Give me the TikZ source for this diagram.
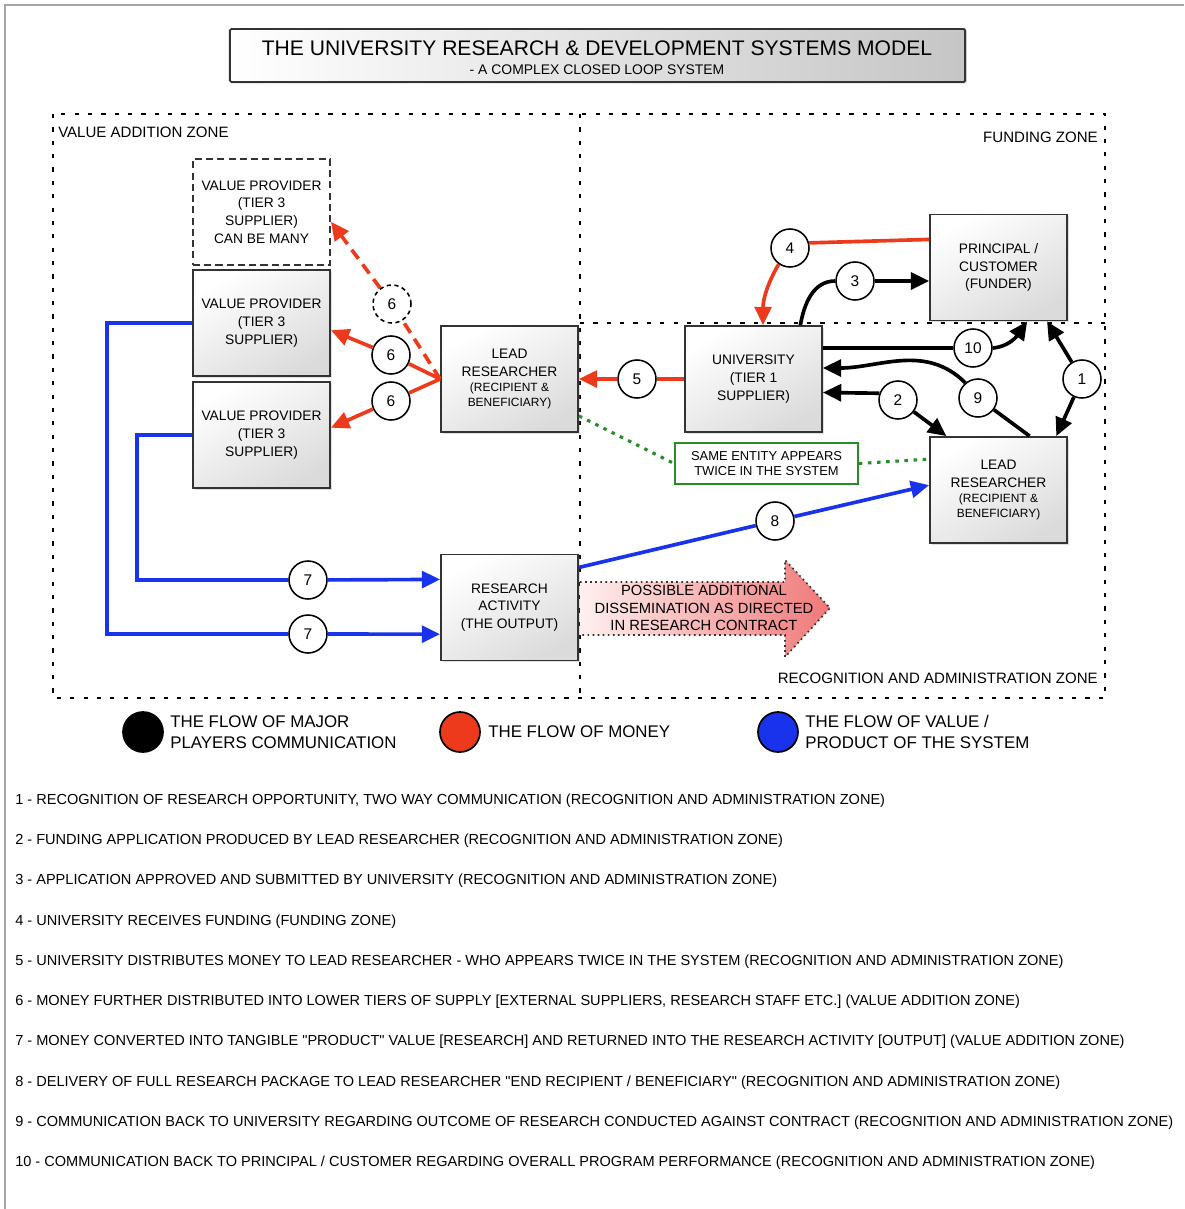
\documentclass[tikz,border=0pt]{standalone}
\usepackage{fontspec}
\setmainfont{Liberation Sans}
\usetikzlibrary{arrows.meta,shadows}
\definecolor{moneyred}{RGB}{238,58,28}
\definecolor{valueblue}{RGB}{25,50,235}
\definecolor{notegreen}{RGB}{40,140,40}
\definecolor{dissempink}{RGB}{240,120,120}
\begin{document}
\begin{tikzpicture}[x=0.025cm, y=0.025cm,
  player/.style={draw=black!80, line width=1.3pt, top color=white, bottom color=gray!28, shading angle=30,
    minimum width=3.425cm, minimum height=2.65cm, inner sep=1pt, align=center,
    font=\fontsize{9.8}{12.6}\selectfont, drop shadow={shadow xshift=1.2pt, shadow yshift=-1.2pt, opacity=0.25}},
  maybeplayer/.style={draw=black!80, line width=1.3pt, dash pattern=on 5pt off 3pt, fill=white,
    minimum width=3.425cm, minimum height=2.65cm, inner sep=1pt, align=center, font=\fontsize{9.8}{12.6}\selectfont},
  flownum/.style={circle, draw=black, line width=1.1pt, fill=white, minimum size=0.95cm, inner sep=0pt,
    font=\fontsize{11}{13}\selectfont},
  zone/.style={line width=1.6pt, dash pattern=on 3pt off 6.5pt},
  zonelabel/.style={font=\fontsize{10.7}{12}\selectfont, inner sep=0pt},
  comm/.style={line width=2.6pt, black, -{Triangle[length=13pt, width=12pt]}},
  money/.style={line width=2.6pt, moneyred, -{Triangle[length=13pt, width=12pt]}},
  value/.style={line width=2.6pt, valueblue, -{Triangle[length=13pt, width=12pt]}},
  note/.style={font=\fontsize{10.35}{12}\selectfont, anchor=west, inner sep=0pt},
  keytext/.style={font=\fontsize{12}{15}\selectfont, anchor=west, align=left, inner sep=0pt}]
\useasboundingbox (0,0) rectangle (1184,-1209);

% Frame and title
\draw[gray!70, line width=1.5pt] (5,-1209) -- (5,-5) -- (1184,-5);
\node[draw=black!80, line width=1.3pt, rounded corners=1pt, left color=white, right color=gray!45,
  minimum width=18.375cm, minimum height=1.325cm, drop shadow={shadow xshift=1.2pt, shadow yshift=-1.2pt, opacity=0.25}]
  (titlebox) at (597.5,-55.5) {};
\node[font=\fontsize{15}{17}\selectfont] (titletext) at (597,-48) {THE UNIVERSITY RESEARCH \& DEVELOPMENT SYSTEMS MODEL};
\node[font=\fontsize{9.9}{11}\selectfont] (subtitle) at (597,-70) {- A COMPLEX CLOSED LOOP SYSTEM};

% Zones
\draw[zone] (53,-114) rectangle (1105,-698);
\draw[zone] (580,-114) -- (580,-698);
\draw[zone] (580,-323) -- (1105,-323);
\node[zonelabel, anchor=west] (valuezone) at (58,-132) {VALUE ADDITION ZONE};
\node[zonelabel, anchor=east] (fundingzone) at (1098,-137) {FUNDING ZONE};
\node[zonelabel, anchor=east] (adminzone) at (1098,-678) {RECOGNITION AND ADMINISTRATION ZONE};

% Possible dissemination arrow
\draw[black!80, line width=1.2pt, dash pattern=on 1.2pt off 2.4pt, left color=red!6, right color=dissempink]
  (580,-582) -- (785,-582) -- (785,-560) -- (830,-608) -- (785,-657) -- (785,-635) -- (580,-635);
\node[align=center, font=\fontsize{10.5}{12.4}\selectfont] (dissem) at (704,-608)
  {POSSIBLE ADDITIONAL\\DISSEMINATION AS DIRECTED\\IN RESEARCH CONTRACT};

% Players
\node[maybeplayer] (vpmany) at (261.5,-212) {VALUE PROVIDER\\(TIER 3\\SUPPLIER)\\CAN BE MANY};
\node[player] (vpone) at (261.5,-323) {VALUE PROVIDER\\(TIER 3\\SUPPLIER)};
\node[player] (vptwo) at (261.5,-435) {VALUE PROVIDER\\(TIER 3\\SUPPLIER)};
\node[player] (lrleft) at (509.5,-379) {LEAD\\RESEARCHER\\[-2pt]{\fontsize{8.5}{9}\selectfont (RECIPIENT \&}\\[-2pt]{\fontsize{8.5}{9}\selectfont BENEFICIARY)}};
\node[player] (university) at (753.5,-379) {UNIVERSITY\\(TIER 1\\SUPPLIER)};
\node[player] (principal) at (998.5,-267.5) {PRINCIPAL /\\CUSTOMER\\(FUNDER)};
\node[player] (lrright) at (998.5,-490) {LEAD\\RESEARCHER\\[-2pt]{\fontsize{8.5}{9}\selectfont (RECIPIENT \&}\\[-2pt]{\fontsize{8.5}{9}\selectfont BENEFICIARY)}};
\node[player] (research) at (509.5,-607.5) {RESEARCH\\ACTIVITY\\(THE OUTPUT)};
\node[draw=notegreen, line width=1.1pt, fill=white, minimum width=4.575cm, minimum height=1.025cm,
  align=center, font=\fontsize{9.2}{11}\selectfont] (samenote) at (766.5,-463.5) {SAME ENTITY APPEARS\\TWICE IN THE SYSTEM};

% Flow numbers
\node[flownum] (f1) at (1082,-379) {1};
\node[flownum] (f2) at (898,-400) {2};
\node[flownum] (f3) at (855,-281) {3};
\node[flownum] (f4) at (790,-248) {4};
\node[flownum] (f5) at (637,-379) {5};
\node[flownum, dash pattern=on 3pt off 2.5pt] (f6up) at (392,-304) {6};
\node[flownum] (f6a) at (391,-355) {6};
\node[flownum] (f6b) at (391,-401) {6};
\node[flownum] (f7a) at (308,-580) {7};
\node[flownum] (f7b) at (308,-634) {7};
\node[flownum] (f8) at (775,-521) {8};
\node[flownum] (f9) at (978,-398) {9};
\node[flownum] (f10) at (973,-348) {10};

% Communication
\draw[comm] (f1) -- (principal.-48);
\draw[comm] (f1) -- (lrright.43);
\draw[comm] (f2.160) -- (university.-11);
\draw[comm] (f2) -- (lrright.134);
\draw[comm, -] (university.49) to[out=80, in=180] (f3.west);
\draw[comm] (f3.east) -- (f3.east -| principal.west);
\draw[comm, -] (lrright.60) -- (f9);
\draw[comm] (f9.130) to[out=135, in=0] (university.9);
\draw[comm, -] (f10 -| university.east) -- (f10.west);
\draw[comm] (f10.east) to[out=5, in=235] (principal.-62);

% Money
\draw[money, -] (principal.158) -- (f4.15);
\draw[money] (f4.235) to[out=240, in=90] (university.80);
\draw[money, -] (university.west) -- (f5);
\draw[money] (f5) -- (lrleft.east);
\draw[money, -] (lrleft.west) -- (f6a);
\draw[money] (f6a) -- (vpone.-6);
\draw[money, -] (lrleft.west) -- (f6b);
\draw[money] (f6b) -- (vptwo.6);
\draw[money, -, dash pattern=on 8pt off 5pt] (lrleft.west) -- (f6up);
\draw[money, dash pattern=on 8pt off 5pt] (f6up) -- (vpmany.-8);

% Value
\draw[value, -] (vptwo.west) -- ++(-55,0) |- (f7a);
\draw[value] (f7a) -- (research.158);
\draw[value, -] (vpone.west) -- ++(-85,0) |- (f7b);
\draw[value] (f7b) -- (research.201);
\draw[value, -] (research.30) -- (f8);
\draw[value] (f8) -- (lrright.176);

% Same entity link
\draw[notegreen, line width=2.2pt, dash pattern=on 2.5pt off 4pt] (lrleft.-28) -- (samenote.west);
\draw[notegreen, line width=2.2pt, dash pattern=on 2.5pt off 4pt] (samenote.east) -- (lrright.156);

% Key
\node[circle, draw=black, line width=1.2pt, fill=black, minimum size=1cm] (keycomm) at (143,-732) {};
\node[keytext] (keycommtext) at (170,-732) {THE FLOW OF MAJOR\\PLAYERS COMMUNICATION};
\node[circle, draw=black, line width=1.2pt, fill=moneyred, minimum size=1cm] (keymoney) at (460,-732) {};
\node[keytext] (keymoneytext) at (488,-732) {THE FLOW OF MONEY};
\node[circle, draw=black, line width=1.2pt, fill=valueblue, minimum size=1cm] (keyvalue) at (778,-732) {};
\node[keytext] (keyvaluetext) at (805,-732) {THE FLOW OF VALUE /\\PRODUCT OF THE SYSTEM};

% Notes
\node[note] (note1) at (15,-801) {1 - RECOGNITION OF RESEARCH OPPORTUNITY, TWO WAY COMMUNICATION (RECOGNITION AND ADMINISTRATION ZONE)};
\node[note] (note2) at (15,-841) {2 - FUNDING APPLICATION PRODUCED BY LEAD RESEARCHER (RECOGNITION AND ADMINISTRATION ZONE)};
\node[note] (note3) at (15,-881) {3 - APPLICATION APPROVED AND SUBMITTED BY UNIVERSITY (RECOGNITION AND ADMINISTRATION ZONE)};
\node[note] (note4) at (15,-922) {4 - UNIVERSITY RECEIVES FUNDING (FUNDING ZONE)};
\node[note] (note5) at (15,-962) {5 - UNIVERSITY DISTRIBUTES MONEY TO LEAD RESEARCHER - WHO APPEARS TWICE IN THE SYSTEM (RECOGNITION AND ADMINISTRATION ZONE)};
\node[note] (note6) at (15,-1002) {6 - MONEY FURTHER DISTRIBUTED INTO LOWER TIERS OF SUPPLY [EXTERNAL SUPPLIERS, RESEARCH STAFF ETC.] (VALUE ADDITION ZONE)};
\node[note] (note7) at (15,-1042) {7 - MONEY CONVERTED INTO TANGIBLE \textquotedbl PRODUCT\textquotedbl{} VALUE [RESEARCH] AND RETURNED INTO THE RESEARCH ACTIVITY [OUTPUT] (VALUE ADDITION ZONE)};
\node[note] (note8) at (15,-1083) {8 - DELIVERY OF FULL RESEARCH PACKAGE TO LEAD RESEARCHER \textquotedbl END RECIPIENT / BENEFICIARY\textquotedbl{} (RECOGNITION AND ADMINISTRATION ZONE)};
\node[note] (note9) at (15,-1123) {9 - COMMUNICATION BACK TO UNIVERSITY REGARDING OUTCOME OF RESEARCH CONDUCTED AGAINST CONTRACT (RECOGNITION AND ADMINISTRATION ZONE)};
\node[note] (note10) at (15,-1163) {10 - COMMUNICATION BACK TO PRINCIPAL / CUSTOMER REGARDING OVERALL PROGRAM PERFORMANCE (RECOGNITION AND ADMINISTRATION ZONE)};
\end{tikzpicture}
\end{document}
